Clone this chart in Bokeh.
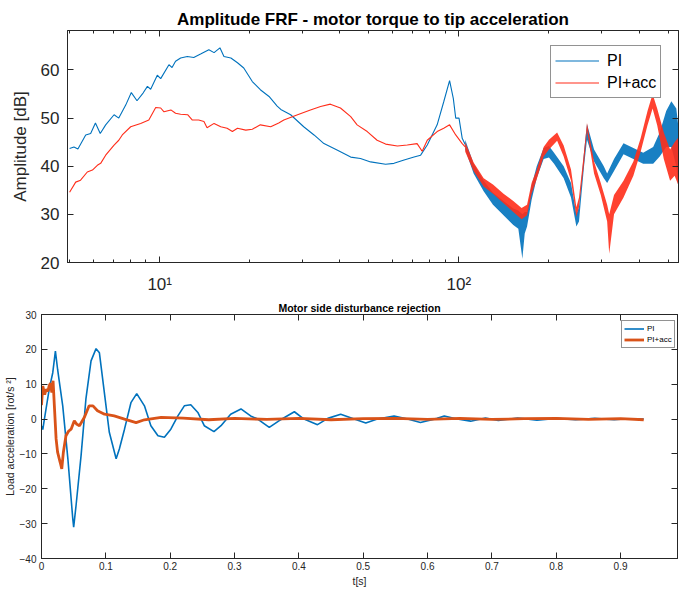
from bokeh.plotting import figure
from bokeh.models import (FixedTicker, LogAxis, LinearAxis, Legend, LegendItem, Label, Range1d)
from bokeh.embed import file_html
from bokeh.resources import INLINE

# ---------------- Top chart data (Amplitude FRF) ----------------
freq_pi = [5.0, 5.17, 5.33, 5.66, 5.88, 6.1, 6.33, 6.6, 7.04, 7.3, 7.7, 8.04, 8.4, 8.8, 9.1, 9.33,
           9.82, 10.08, 10.74, 11.0, 11.3, 11.75, 12.37, 13.0, 13.7, 14.6, 15.2, 15.9, 16.4, 17.3,
           18.2, 19.1, 20.4, 21.7, 23.2, 24.7, 25.4, 27.4, 30.3, 32.8, 35.4, 39.3, 43.5, 46.9,
           50.7, 56.9, 60.7, 65.6, 70.8, 74.5, 78.4, 84.6, 89.0, 93.1, 95.8, 97.6, 100.1, 102.6, 105.0]
db_pi = [43.7, 44.0, 43.6, 46.5, 46.8, 49.0, 46.8, 48.6, 50.7, 50.0, 52.7, 55.3, 53.6, 55.2, 56.6, 56.0,
         58.9, 58.2, 61.1, 60.5, 61.8, 62.5, 62.8, 62.6, 63.3, 64.2, 63.6, 64.6, 62.8, 62.5,
         61.5, 60.4, 57.6, 55.9, 54.5, 52.5, 51.8, 50.7, 48.2, 46.5, 44.7, 43.3, 41.9, 41.6,
         40.9, 40.4, 40.6, 41.3, 41.9, 42.3, 44.4, 48.6, 53.4, 57.8, 54.1, 50.0, 50.0, 45.8, 44.5]

freq_acc = [5.0, 5.24, 5.44, 5.73, 5.96, 6.19, 6.35, 6.6, 7.04, 7.3, 7.5, 8.0, 8.64, 9.2, 9.7, 10.08,
            10.34, 10.9, 11.3, 11.75, 12.4, 12.86, 13.5, 14.06, 14.4, 15.2, 16.0, 16.8, 17.5, 18.2,
            19.4, 20.4, 21.7, 23.5, 25.0, 26.0, 28.9, 31.9, 34.5, 37.2, 40.2, 43.5, 45.7, 49.4,
            53.3, 56.9, 62.3, 67.2, 72.5, 75.4, 78.4, 84.6, 89.0, 93.1, 97.6, 102.6, 105.0]
db_acc = [34.6, 36.7, 37.1, 38.8, 39.2, 40.2, 40.6, 42.3, 44.4, 45.4, 46.5, 48.2, 48.9, 49.6, 52.2, 52.1,
          51.3, 51.7, 51.0, 50.8, 50.7, 49.6, 49.6, 49.3, 48.0, 48.9, 48.2, 47.9, 47.2, 47.9,
          47.5, 47.7, 48.6, 48.2, 49.0, 49.6, 50.7, 51.7, 52.4, 52.9, 52.1, 50.3, 48.6, 47.2,
          45.4, 44.6, 44.2, 44.4, 44.7, 43.1, 45.4, 47.2, 47.9, 48.6, 46.5, 44.7, 44.0]

# noisy high-frequency region: lower / upper envelope of each trace
band_freq_pi = [105, 112, 121, 130, 141, 152, 158, 163, 166, 169, 175, 182, 192, 200, 208, 224, 237,
                247, 252, 262, 268, 283, 305, 313, 330, 355, 383, 413, 446, 469, 493, 513, 533, 542]
band_lo_pi = [43.5, 38.5, 34.8, 32.0, 29.8, 27.8, 27.0, 20.8, 26.0, 27.5, 33.0, 37.5, 41.5, 41.8, 40.5, 37.5, 33.5,
              27.5, 28.5, 40.0, 45.5, 41.0, 37.5, 36.5, 39.0, 42.5, 41.5, 40.5, 40.5, 42.0, 44.0, 44.0, 40.0, 35.0]
band_hi_pi = [45.5, 40.5, 37.0, 34.5, 32.8, 31.2, 30.8, 30.0, 30.5, 30.5, 36.0, 40.0, 43.8, 44.2, 42.8, 40.0, 36.5,
              30.0, 31.5, 43.0, 48.8, 43.5, 40.0, 38.5, 41.5, 44.8, 43.8, 42.8, 44.0, 47.0, 51.5, 53.5, 52.0, 48.0]

band_freq_acc = [105, 112, 121, 130, 141, 152, 162, 169, 175, 182, 192, 200, 213, 224, 237, 247, 252,
                 262, 268, 283, 298, 313, 318, 330, 355, 383, 405, 427, 444, 460, 484, 508, 526, 542]
band_lo_acc = [43.0, 39.0, 35.8, 34.3, 32.3, 30.5, 29.0, 29.8, 34.3, 37.3, 42.0, 43.5, 45.3, 42.0, 37.0, 29.5, 31.5,
               40.5, 47.5, 38.5, 34.0, 28.5, 21.8, 30.0, 33.5, 38.0, 43.0, 48.5, 52.0, 48.5, 41.5, 37.0, 38.0, 36.0]
band_hi_acc = [45.0, 40.8, 37.5, 36.2, 34.3, 32.8, 31.3, 32.0, 36.5, 39.2, 44.0, 45.5, 47.0, 44.3, 39.3, 31.5, 33.5,
               43.0, 49.0, 41.0, 36.5, 32.0, 30.0, 34.0, 37.0, 41.0, 45.8, 51.5, 55.0, 52.0, 47.0, 43.5, 45.0, 46.0]

freq_major_ticks = [10, 100]
freq_minor_ticks = [5, 6, 7, 8, 9, 20, 30, 40, 50, 60, 70, 80, 90, 200, 300, 400, 500]
freq_tick_labels = {10: "10\u00b9", 100: "10\u00b2"}
db_ticks = [20, 30, 40, 50, 60]

# ---------------- Bottom chart data (disturbance rejection) ----------------
t_pi = [0.0, 0.002, 0.0045, 0.008, 0.012, 0.0175, 0.0216, 0.025, 0.029, 0.033, 0.041, 0.0486, 0.050,
        0.0537, 0.0615, 0.069, 0.077, 0.0848, 0.090, 0.0977, 0.1054, 0.116, 0.121, 0.129, 0.139, 0.148,
        0.160, 0.170, 0.181, 0.191, 0.201, 0.212, 0.222, 0.232, 0.243, 0.253, 0.268, 0.279, 0.294, 0.310,
        0.325, 0.336, 0.354, 0.369, 0.393, 0.408, 0.429, 0.445, 0.465, 0.486, 0.504, 0.522, 0.548, 0.569,
        0.589, 0.615, 0.626, 0.646, 0.667, 0.69, 0.71, 0.74, 0.77, 0.80, 0.83, 0.86, 0.89, 0.91, 0.936]
acc_pi = [-2.0, -3.0, 0.0, 4.0, 8.6, 13.3, 19.5, 14.3, 9.0, 3.8, -11.4, -28.6, -31.0,
          -24.8, -10.5, 5.7, 16.7, 20.2, 19.0, 7.6, -3.8, -11.4, -8.6, -2.9, 4.7, 7.3,
          3.8, -1.9, -4.8, -5.2, -2.9, 0.9, 3.8, 4.1, 1.9, -1.9, -3.6, -1.9, 1.4, 2.9,
          0.9, 0.0, -2.4, -0.5, 2.1, 0.0, -1.6, 0.2, 1.4, 0.0, -1.1, 0.0, 0.9, 0.0,
          -1.0, 0.2, 0.9, 0.0, -0.6, 0.3, -0.4, 0.3, -0.3, 0.2, -0.2, 0.2, -0.2, 0.1, 0.0]

t_acc = [0.0, 0.002, 0.005, 0.007, 0.010, 0.012, 0.014, 0.016, 0.018, 0.020, 0.0227, 0.025, 0.029,
         0.0315, 0.034, 0.038, 0.042, 0.046, 0.051, 0.055, 0.059, 0.0667, 0.074, 0.080, 0.087, 0.098,
         0.113, 0.129, 0.147, 0.160, 0.186, 0.22, 0.26, 0.30, 0.35, 0.40, 0.45, 0.50, 0.55, 0.60,
         0.65, 0.70, 0.75, 0.80, 0.85, 0.90, 0.936]
acc_acc = [4.0, 9.5, 7.0, 8.5, 8.0, 9.6, 10.3, 7.6, 11.0, 3.8, -5.7, -9.5, -12.4,
           -14.3, -9.5, -4.8, -3.5, -2.9, -0.5, -1.5, -1.9, 0.5, 3.8, 3.8, 2.4, 1.4,
           0.9, 0.0, -1.0, -0.2, 0.5, 0.3, -0.2, 0.2, -0.1, 0.2, -0.2, 0.1, 0.2, -0.1,
           0.2, -0.1, 0.1, 0.2, -0.1, 0.1, -0.2]

t_ticks = [0, 0.1, 0.2, 0.3, 0.4, 0.5, 0.6, 0.7, 0.8, 0.9, 1.0]
t_tick_labels = {0: "0"}
acc_ticks = [-40, -30, -20, -10, 0, 10, 20, 30]

FONT = "Liberation Sans"
AX = "#262626"
BLUE = "#0072BD"
RED = "#FF2D1A"
ORANGE = "#D95319"


def style_axis(ax, size, standoff, tick=6, minor=3):
    ax.major_label_text_font = FONT
    ax.major_label_text_font_size = size
    ax.major_label_text_color = AX
    ax.major_label_standoff = standoff
    ax.axis_line_color = AX
    ax.major_tick_line_color = AX
    ax.minor_tick_line_color = AX
    ax.major_tick_in = tick
    ax.major_tick_out = 0
    ax.minor_tick_in = minor
    ax.minor_tick_out = 0


def hidden_axis(cls, ticker, tick=6, minor=3):
    ax = cls(ticker=ticker)
    style_axis(ax, "0px", 0, tick, minor)
    ax.major_label_text_alpha = 0
    return ax


# ================= Top figure =================
p1 = figure(width=683, height=298, x_axis_type="log",
            x_range=Range1d(4.92, 542), y_range=Range1d(20, 68.2),
            output_backend="svg", toolbar_location=None,
            min_border_left=67, min_border_right=5, min_border_top=30, min_border_bottom=36)
p1.grid.visible = False
p1.outline_line_color = AX
p1.outline_line_alpha = 1
p1.background_fill_color = "white"
p1.border_fill_color = "white"

p1.title.text = "Amplitude FRF - motor torque to tip acceleration"
p1.title.text_font = FONT
p1.title.text_font_size = "17px"
p1.title.text_font_style = "bold"
p1.title.text_color = "black"
p1.title.align = "center"
p1.title.standoff = 4

fx_ticker = FixedTicker(ticks=freq_major_ticks, minor_ticks=freq_minor_ticks)
xa = p1.xaxis[0]
xa.ticker = fx_ticker
xa.major_label_overrides = freq_tick_labels
style_axis(xa, "17px", 12)
ya = p1.yaxis[0]
ya.ticker = FixedTicker(ticks=db_ticks)
style_axis(ya, "17px", 8)
ya.axis_label = "Amplitude [dB]"
ya.axis_label_text_font = FONT
ya.axis_label_text_font_size = "17px"
ya.axis_label_text_font_style = "normal"
ya.axis_label_text_color = AX
ya.axis_label_standoff = 8

p1.add_layout(hidden_axis(LogAxis, FixedTicker(ticks=freq_major_ticks, minor_ticks=freq_minor_ticks)), "above")
p1.add_layout(hidden_axis(LinearAxis, FixedTicker(ticks=db_ticks)), "right")

p1.varea(x=band_freq_pi, y1=band_lo_pi, y2=band_hi_pi, fill_color=BLUE, fill_alpha=0.9)
r_pi = p1.line(freq_pi, db_pi, line_color=BLUE, line_width=1.1)
p1.varea(x=band_freq_acc, y1=band_lo_acc, y2=band_hi_acc, fill_color=RED, fill_alpha=0.9)
r_acc = p1.line(freq_acc, db_acc, line_color=RED, line_width=1.1)

p1.add_layout(Label(x=31, y=-20, x_units="data", y_units="screen", text="Frequency [Hz]",
                    text_font=FONT, text_font_size="17px", text_color=AX,
                    text_align="center", text_baseline="middle"))

leg1 = Legend(items=[LegendItem(label="PI", renderers=[r_pi]),
                     LegendItem(label="PI+acc", renderers=[r_acc])],
              location=(483, 164), padding=4, spacing=1, margin=0,
              label_height=21, glyph_height=21, glyph_width=44, label_standoff=8,
              label_text_font=FONT, label_text_font_size="16px", label_text_color="black",
              border_line_color=AX, border_line_width=1, background_fill_alpha=1)
p1.add_layout(leg1)

# ================= Bottom figure =================
p2 = figure(width=683, height=291, x_range=Range1d(0, 0.9885), y_range=Range1d(-40, 30),
            output_backend="svg", toolbar_location=None,
            min_border_left=40, min_border_right=6, min_border_top=15, min_border_bottom=31)
p2.grid.visible = False
p2.outline_line_color = AX
p2.outline_line_alpha = 1

p2.title.text = "Motor side disturbance rejection"
p2.title.text_font = FONT
p2.title.text_font_size = "10.5px"
p2.title.text_font_style = "bold"
p2.title.text_color = "black"
p2.title.align = "center"
p2.title.standoff = 2

xb = p2.xaxis[0]
xb.ticker = FixedTicker(ticks=t_ticks)
xb.major_label_overrides = t_tick_labels
style_axis(xb, "10px", 3)
xb.axis_label = "t[s]"
xb.axis_label_text_font = FONT
xb.axis_label_text_font_size = "10.5px"
xb.axis_label_text_font_style = "normal"
xb.axis_label_text_color = AX
xb.axis_label_standoff = 2

yb = p2.yaxis[0]
yb.ticker = FixedTicker(ticks=acc_ticks)
style_axis(yb, "10px", 5)
yb.axis_label = "Load acceleration [rot/s \u00b2]"
yb.axis_label_text_font = FONT
yb.axis_label_text_font_size = "10.5px"
yb.axis_label_text_font_style = "normal"
yb.axis_label_text_color = AX
yb.axis_label_standoff = 1

p2.add_layout(hidden_axis(LinearAxis, FixedTicker(ticks=t_ticks)), "above")
p2.add_layout(hidden_axis(LinearAxis, FixedTicker(ticks=acc_ticks)), "right")

r2_pi = p2.line(t_pi, acc_pi, line_color=BLUE, line_width=1.6)
r2_acc = p2.line(t_acc, acc_acc, line_color=ORANGE, line_width=2.8)

leg2 = Legend(items=[LegendItem(label="PI", renderers=[r2_pi]),
                     LegendItem(label="PI+acc", renderers=[r2_acc])],
              location=(580, 210), padding=2, spacing=0, margin=0,
              label_height=11, glyph_height=11, glyph_width=20, label_standoff=3,
              label_text_font=FONT, label_text_font_size="8px", label_text_color="black",
              border_line_color=AX, border_line_width=1, background_fill_alpha=1)
p2.add_layout(leg2)

open("out.html", "w").write(file_html([p1, p2], INLINE))
